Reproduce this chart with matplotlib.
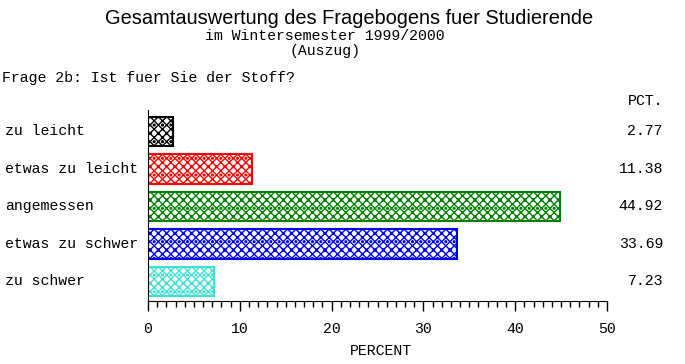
import matplotlib.pyplot as plt
from matplotlib.ticker import MultipleLocator

categories = ["zu leicht", "etwas zu leicht", "angemessen", "etwas zu schwer", "zu schwer"]
percent = [2.77, 11.38, 44.92, 33.69, 7.23]
colors = ["black", "red", "green", "blue", "#40e0d0"]

mono = "Liberation Mono"
fs = 10.7
plt.rcParams["hatch.linewidth"] = 1.0

fig = plt.figure(figsize=(6.85, 3.64), dpi=100)
ax = fig.add_axes([148 / 685, 1 - 301 / 364, 459 / 685, 191 / 364])

# Bars with a white fill and a coloured crosshatch/dot pattern
for i, (val, col) in enumerate(zip(percent, colors)):
    ax.barh(i, val, height=0.79, color="white", edgecolor=col, hatch="xxxx..", linewidth=1.5)

ax.set_xlim(0, 50)
ax.set_ylim(4.52, -0.57)
ax.xaxis.set_major_locator(MultipleLocator(10))
ax.xaxis.set_minor_locator(MultipleLocator(1))
ax.tick_params(axis="x", which="major", length=7, width=1, direction="out", pad=8)
ax.tick_params(axis="x", which="minor", length=4, width=1, direction="out")
ax.set_yticks([])
for lbl in ax.get_xticklabels():
    lbl.set_fontfamily(mono)
    lbl.set_fontsize(fs)
ax.spines["top"].set_visible(False)
ax.spines["right"].set_visible(False)

# Category labels on the left, percentages on the right
for i, (cat, val) in enumerate(zip(categories, percent)):
    y = ax.transData.transform((0, i))[1] / fig.bbox.height
    fig.text(5 / 685, y, cat, family=mono, fontsize=fs, va="center", ha="left")
    fig.text(663 / 685, y, f"{val:.2f}", family=mono, fontsize=fs, va="center", ha="right")

fig.text(663 / 685, 1 - 101 / 364, "PCT.", family=mono, fontsize=fs, va="center", ha="right")
fig.text(381 / 685, 1 - 351 / 364, "PERCENT", family=mono, fontsize=fs, va="center", ha="center")

# Titles
fig.text(349 / 685, 1 - 18 / 364, "Gesamtauswertung des Fragebogens fuer Studierende",
         family="Liberation Sans", fontsize=14.4, va="center", ha="center")
fig.text(325 / 685, 1 - 36 / 364, "im Wintersemester 1999/2000",
         family=mono, fontsize=fs, va="center", ha="center")
fig.text(325 / 685, 1 - 51 / 364, "(Auszug)",
         family=mono, fontsize=fs, va="center", ha="center")
fig.text(2 / 685, 1 - 78 / 364, "Frage 2b: Ist fuer Sie der Stoff?",
         family=mono, fontsize=fs, va="center", ha="left")

fig.savefig("out.png", dpi=100)
